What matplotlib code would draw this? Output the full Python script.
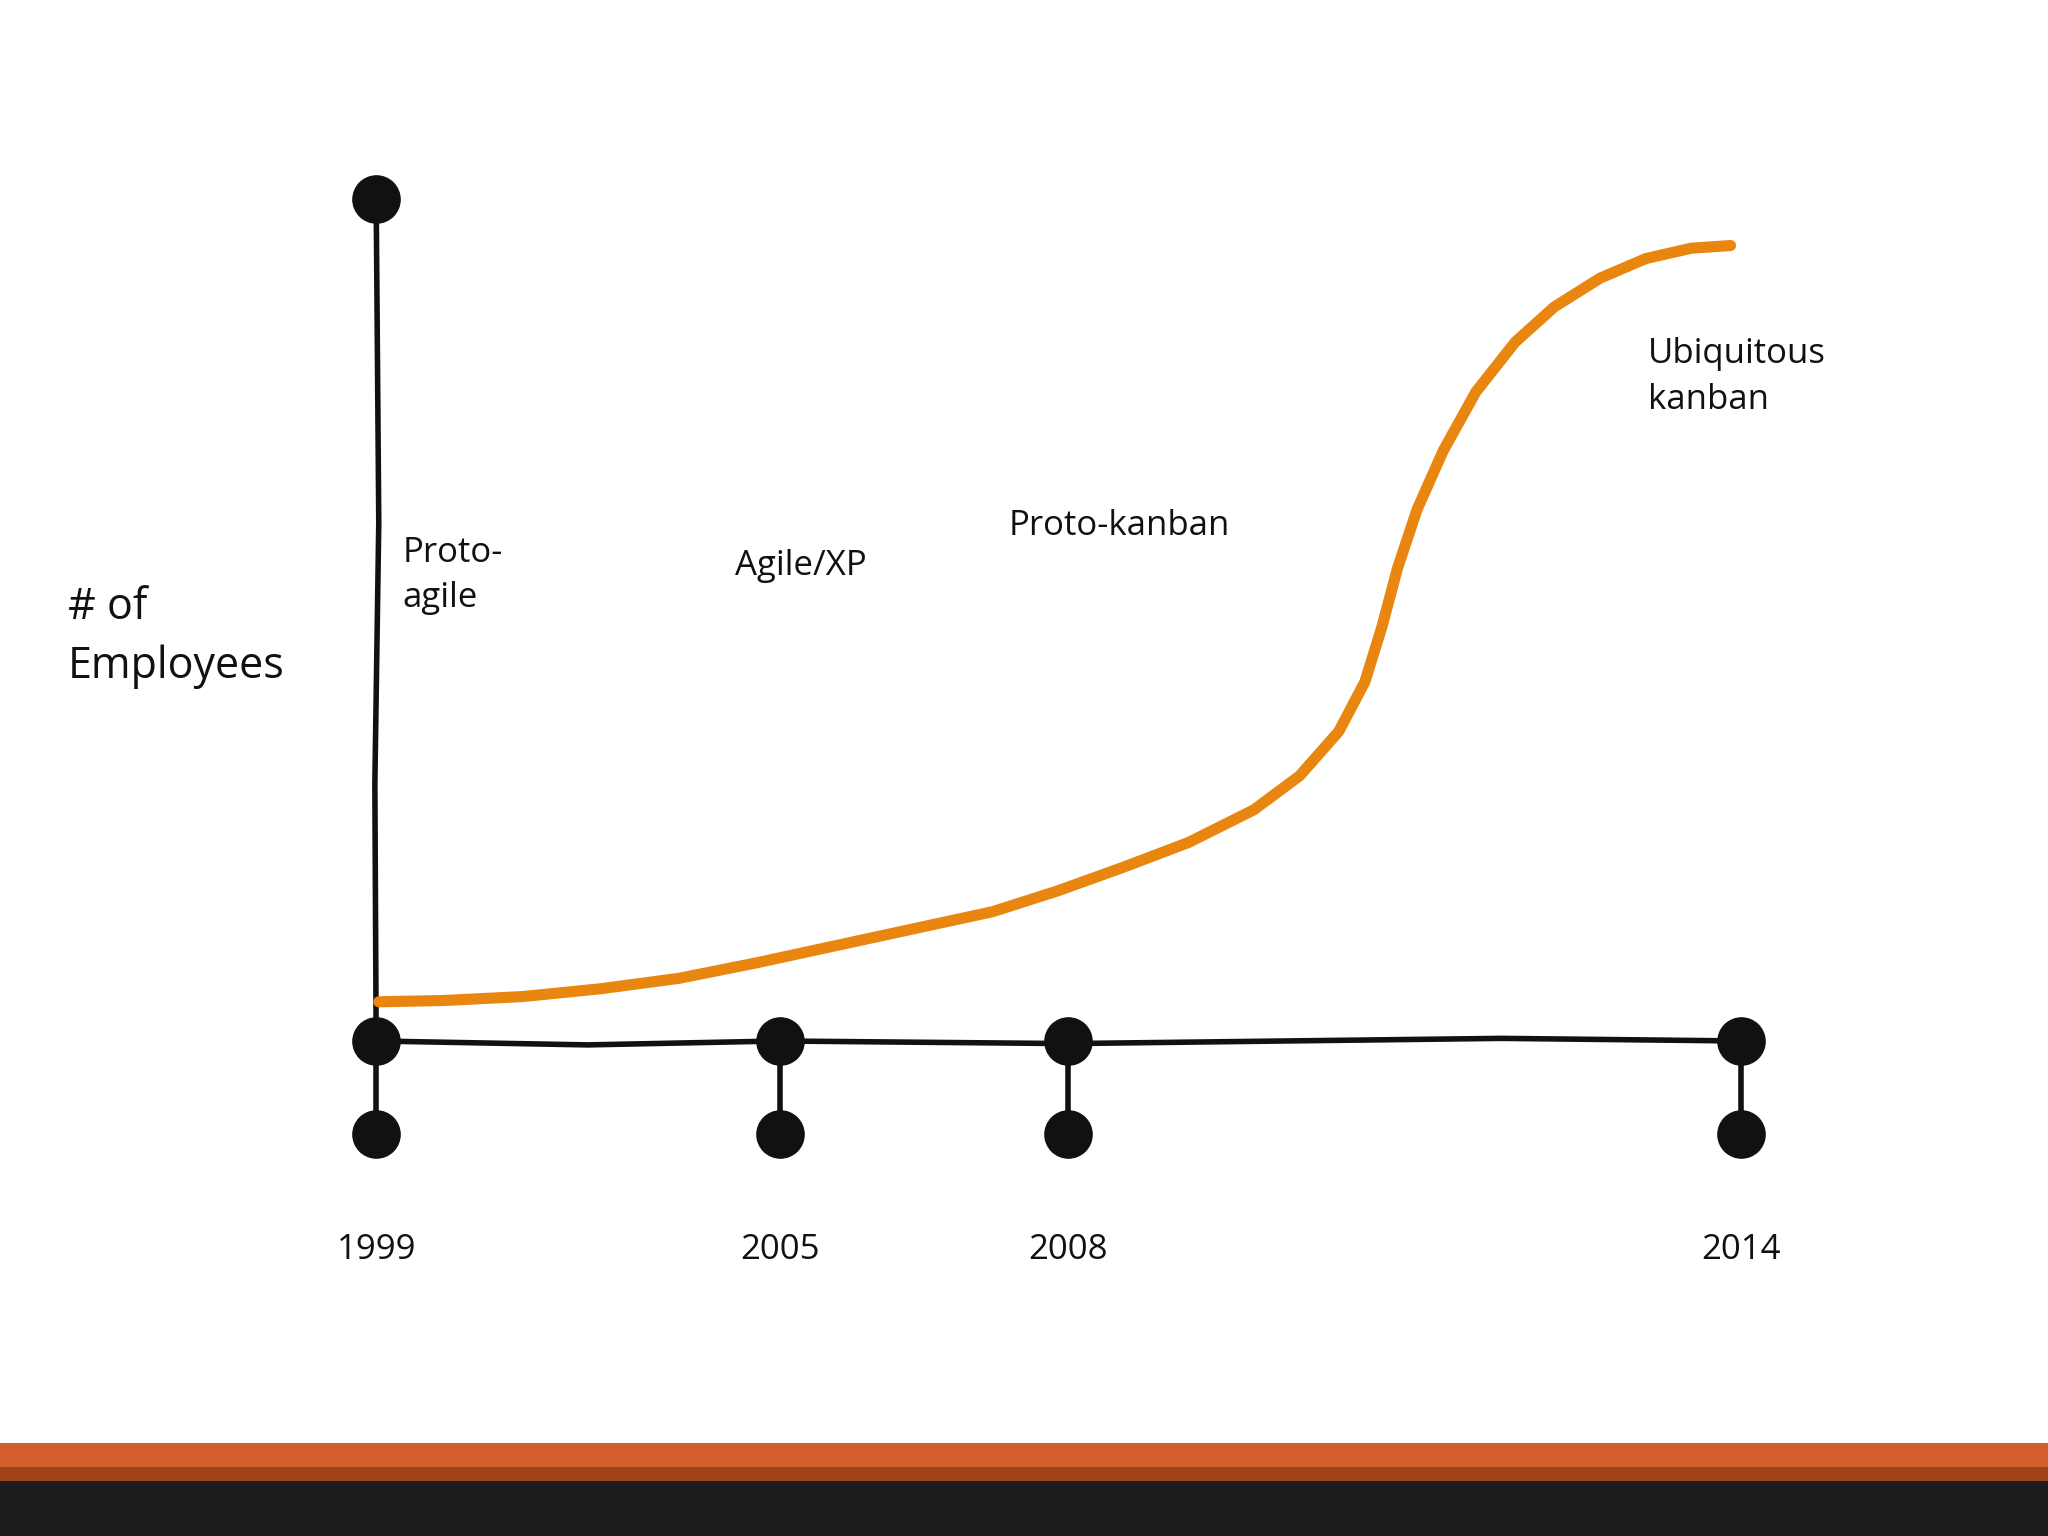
import matplotlib
matplotlib.use("Agg")
import matplotlib.pyplot as plt

plt.rcParams["font.family"] = ["Open Sans", "DejaVu Sans"]

# sketch coordinates (hand-drawn, not to scale)
years = ["1999", "2005", "2008", "2014"]
year_x = [288, 597, 818, 1333]
axis_y = 797
tick_y = 868
axis_top = 152

growth_x = [290, 340, 400, 460, 520, 580, 640, 700, 760, 810, 860, 910, 960, 995, 1025, 1045, 1058, 1070, 1085, 1105, 1130, 1160, 1190, 1225, 1260, 1295, 1325]
growth_y = [767, 766, 763, 757, 749, 737, 724, 711, 698, 682, 664, 645, 620, 594, 560, 522, 480, 435, 390, 345, 300, 262, 235, 213, 198, 190, 188]

phases = ["Proto-\nagile", "Agile/XP", "Proto-kanban", "Ubiquitous\nkanban"]
phase_x = [308, 563, 772, 1262]
phase_y = [410, 420, 390, 258]

fig = plt.figure(figsize=(20.48, 15.36), dpi=100)
ax = fig.add_axes([0, 0, 1, 1])
ax.set_xlim(0, 1568)
ax.set_ylim(1176, 0)
ax.axis("off")

ink = "#111111"
ax.plot([288, 290, 287, 288], [axis_top, 400, 600, axis_y], color=ink, lw=4, solid_capstyle="round")
ax.plot([288, 450, 597, 818, 1150, 1333], [axis_y, 800, 797, 799, 795, 797], color=ink, lw=4)
for x in year_x:
    ax.plot([x, x], [axis_y, tick_y], color=ink, lw=4)
    ax.plot([x, x], [axis_y, tick_y], "o", color=ink, ms=34)
ax.plot([288], [axis_top], "o", color=ink, ms=34)

ax.plot(growth_x, growth_y, color="#E8860F", lw=8, solid_capstyle="round", solid_joinstyle="round")

for lab, x in zip(years, year_x):
    ax.text(x, 957, lab, fontsize=25, ha="center", va="center", color=ink)
for lab, x, y in zip(phases, phase_x, phase_y):
    ax.text(x, y, lab, fontsize=25, ha="left", va="top", color=ink, linespacing=1.45)
ax.text(52, 448, "# of\nEmployees", fontsize=31, ha="left", va="top", color=ink, linespacing=1.45)

ax.axhspan(1105, 1123, color="#D45F2A", lw=0)
ax.axhspan(1123, 1134, color="#9E4318", lw=0)
ax.axhspan(1134, 1176, color="#1C1C1E", lw=0)

fig.savefig("out.png", dpi=100)
